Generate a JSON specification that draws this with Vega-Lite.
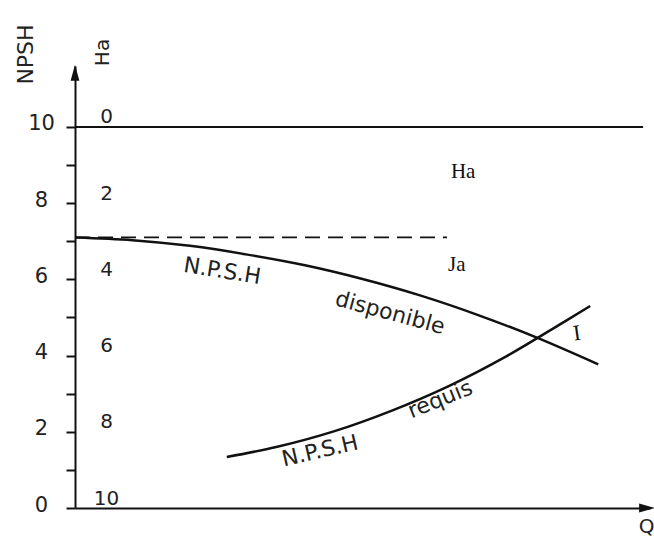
{
  "$schema": "https://vega.github.io/schema/vega-lite/v6.json",
  "width": 575,
  "height": 442,
  "autosize": {"type": "none"},
  "padding": {"left": 75, "top": 66, "right": 4, "bottom": 30},
  "background": "white",
  "config": {"view": {"stroke": null}, "font": "DejaVu Sans"},
  "resolve": {"axis": {"y": "independent"}},
  "datasets": {
    "topline": [{"q": 0, "npsh": 10}, {"q": 9.88, "npsh": 10}],
    "dashed": [{"q": 0, "npsh": 7.1}, {"q": 6.47, "npsh": 7.1}],
    "curves": [
      {"courbe": "disponible", "q": 0, "npsh": 7.1},
      {"courbe": "disponible", "q": 1, "npsh": 7.03},
      {"courbe": "disponible", "q": 2, "npsh": 6.88},
      {"courbe": "disponible", "q": 3, "npsh": 6.65},
      {"courbe": "disponible", "q": 4, "npsh": 6.37},
      {"courbe": "disponible", "q": 5, "npsh": 6.01},
      {"courbe": "disponible", "q": 6, "npsh": 5.58},
      {"courbe": "disponible", "q": 7, "npsh": 5.07},
      {"courbe": "disponible", "q": 8, "npsh": 4.49},
      {"courbe": "disponible", "q": 9.1, "npsh": 3.77},
      {"courbe": "requis", "q": 2.64, "npsh": 1.34},
      {"courbe": "requis", "q": 3.5, "npsh": 1.6},
      {"courbe": "requis", "q": 4.5, "npsh": 2.01},
      {"courbe": "requis", "q": 5.5, "npsh": 2.55},
      {"courbe": "requis", "q": 6.5, "npsh": 3.2},
      {"courbe": "requis", "q": 7.5, "npsh": 3.98},
      {"courbe": "requis", "q": 8.5, "npsh": 4.88},
      {"courbe": "requis", "q": 8.96, "npsh": 5.3}
    ]
  },
  "encoding": {
    "x": {
      "field": "q", "type": "quantitative",
      "scale": {"domain": [0, 10], "nice": false, "zero": false},
      "axis": {
        "title": "Q", "domain": true, "domainColor": "#111", "domainWidth": 2,
        "ticks": false, "labels": false, "grid": false,
        "titleX": 571, "titleY": 8, "titleAlign": "center", "titleBaseline": "top",
        "titleFontSize": 20, "titleFontWeight": "normal", "titleColor": "#222", "titleFont": "DejaVu Sans"
      }
    },
    "y": {
      "field": "npsh", "type": "quantitative",
      "scale": {"domain": [0, 11.6], "nice": false, "zero": false},
      "axis": null
    }
  },
  "layer": [
    {
      "data": {"name": "topline"},
      "mark": {"type": "line", "color": "#111", "strokeWidth": 2},
      "encoding": {
        "y": {
          "field": "npsh", "type": "quantitative",
          "scale": {"domain": [0, 11.6], "nice": false, "zero": false},
          "axis": {
            "title": "NPSH", "orient": "left",
            "values": [0, 1, 2, 3, 4, 5, 6, 7, 8, 9, 10],
            "labelExpr": "datum.value % 2 === 0 ? datum.label : ''",
            "grid": false, "domainColor": "#111", "domainWidth": 2,
            "tickColor": "#111", "tickWidth": 2, "tickSize": 9,
            "labelAlign": "center", "labelPadding": 25, "labelFontSize": 21, "labelColor": "#222", "labelFont": "DejaVu Sans",
            "labelOffset": -3,
            "titleAngle": -90, "titleX": -50, "titleY": -12, "titleAlign": "center", "titleBaseline": "middle",
            "titleFontSize": 22, "titleFontWeight": "normal", "titleColor": "#222", "titleFont": "DejaVu Sans"
          }
        }
      }
    },
    {
      "data": {"name": "dashed"},
      "mark": {"type": "line", "color": "#111", "strokeWidth": 1.8, "strokeDash": [15, 8]},
      "encoding": {
        "y": {
          "field": "npsh", "type": "quantitative",
          "scale": {"domain": [0, 11.6], "nice": false, "zero": false},
          "axis": {
            "title": "Ha", "orient": "left",
            "values": [0, 2, 4, 6, 8, 10],
            "labelExpr": "'' + (10 - datum.value)",
            "domain": false, "ticks": false, "tickSize": 0, "grid": false,
            "labelAlign": "center", "labelBaseline": "middle", "labelPadding": -31, "labelOffset": -10,
            "labelFontSize": 20, "labelColor": "#222", "labelFont": "DejaVu Sans",
            "titleAngle": -90, "titleX": 27, "titleY": -14, "titleAlign": "center", "titleBaseline": "middle",
            "titleFontSize": 20, "titleFontWeight": "normal", "titleColor": "#222", "titleFont": "DejaVu Sans"
          }
        }
      }
    },
    {
      "data": {"name": "curves"},
      "mark": {"type": "line", "color": "#111", "strokeWidth": 2.5, "interpolate": "monotone"},
      "encoding": {"detail": {"field": "courbe", "type": "nominal"}}
    },
    {
      "data": {"values": [{"q": 0, "npsh": 11.42}]},
      "mark": {"type": "point", "shape": "M0,-1L0.55,1L-0.55,1Z", "size": 256, "filled": true, "color": "#111", "opacity": 1}
    },
    {
      "data": {"values": [{"q": 9.95, "npsh": 0}]},
      "mark": {"type": "point", "shape": "M1,0L-1,-0.55L-1,0.55Z", "size": 256, "filled": true, "color": "#111", "opacity": 1}
    },
    {
      "data": {"values": [{"q": 6.75, "npsh": 8.82, "label": "Ha"}, {"q": 6.64, "npsh": 6.38, "label": "Ja"}]},
      "mark": {"type": "text", "font": "Liberation Serif", "fontSize": 21, "color": "#111"},
      "encoding": {"text": {"field": "label"}}
    },
    {
      "data": {"values": [{"q": 8.73, "npsh": 4.59, "label": "I"}]},
      "mark": {"type": "text", "font": "Liberation Serif", "fontSize": 22, "color": "#111", "angle": -8},
      "encoding": {"text": {"field": "label"}}
    },
    {
      "data": {"values": [{"q": 2.56, "npsh": 6.22, "label": "N.P.S.H"}]},
      "mark": {"type": "text", "fontSize": 22, "color": "#222", "angle": 9},
      "encoding": {"text": {"field": "label"}}
    },
    {
      "data": {"values": [{"q": 5.48, "npsh": 5.12, "label": "disponible"}]},
      "mark": {"type": "text", "fontSize": 22, "color": "#222", "angle": 15},
      "encoding": {"text": {"field": "label"}}
    },
    {
      "data": {"values": [{"q": 4.26, "npsh": 1.5, "label": "N.P.S.H"}]},
      "mark": {"type": "text", "fontSize": 22, "color": "#222", "angle": -13},
      "encoding": {"text": {"field": "label"}}
    },
    {
      "data": {"values": [{"q": 6.35, "npsh": 2.85, "label": "requis"}]},
      "mark": {"type": "text", "fontSize": 22, "color": "#222", "angle": -22},
      "encoding": {"text": {"field": "label"}}
    }
  ]
}
